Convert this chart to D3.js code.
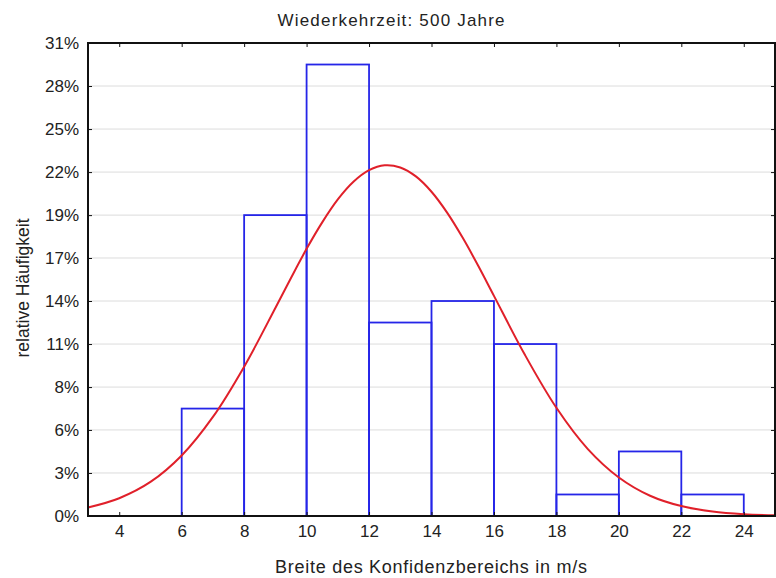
<!DOCTYPE html>
<html><head><meta charset="utf-8">
<script src="https://cdn.jsdelivr.net/npm/d3@7"></script>
<style>body{margin:0;background:#fff}svg{display:block}text{font-family:Arial,"Liberation Sans",sans-serif;fill:#222}</style>
</head><body><svg id="c" width="776" height="578"></svg>
<script>
// Histogram bins (m/s) and relative frequencies (%), N = 72
const binStarts = [6, 8, 10, 12, 14, 16, 18, 20, 22];
const binWidth = 2;
const relFreq = [6.94, 19.44, 29.17, 12.50, 13.89, 11.11, 1.39, 4.17, 1.39];
// Fitted normal curve (%)
const curveX = [3,4,5,6,7,8,9,9.5,10,10.5,11,11.5,12,12.5,13,13.5,14,14.5,15,15.5,16,17,18,19,20,21,22,23,24,25];
const curveY = [0.55,1.15,2.20,3.91,6.40,9.65,13.44,15.38,17.26,18.97,20.45,21.59,22.34,22.66,22.52,21.94,20.95,19.60,17.97,16.15,14.22,10.38,6.99,4.34,2.49,1.31,0.64,0.29,0.12,0.05];
const xTicks = [4,6,8,10,12,14,16,18,20,22,24];
const yTickValues = [0,2.78,5.56,8.33,11.11,13.89,16.67,19.44,22.22,25,27.78,30.56];
const yTickLabels = ["0%","3%","6%","8%","11%","14%","17%","19%","22%","25%","28%","31%"];
const title = "Wiederkehrzeit: 500 Jahre";
const xTitle = "Breite des Konfidenzbereichs in m/s";
const yTitle = "relative Häufigkeit";

const W = 776, H = 578;
const m = {l: 88, r: 1, t: 43, b: 62};
const svg = d3.select("#c");
const x = d3.scaleLinear().domain([3, 25]).range([m.l, W - m.r]);
const y = d3.scaleLinear().domain([0, 30.56]).range([H - m.b, m.t]);

// gridlines
svg.append("g").selectAll("line").data(yTickValues.slice(1, -1)).join("line")
  .attr("x1", m.l).attr("x2", W - m.r).attr("y1", d => y(d)).attr("y2", d => y(d))
  .attr("stroke", "#dcdcdc").attr("stroke-width", 1);

// bars
svg.append("g").selectAll("rect").data(relFreq).join("rect")
  .attr("x", (d, i) => x(binStarts[i])).attr("width", (d, i) => x(binStarts[i] + binWidth) - x(binStarts[i]))
  .attr("y", d => y(d)).attr("height", d => y(0) - y(d))
  .attr("fill", "none").attr("stroke", "#2525e8").attr("stroke-width", 1.8);

// curve
const line = d3.line().x((d, i) => x(curveX[i])).y(d => y(d)).curve(d3.curveCatmullRom);
svg.append("path").datum(curveY).attr("d", line)
  .attr("fill", "none").attr("stroke", "#e0202a").attr("stroke-width", 2);

// axes (ticks inward)
const fmtY = (d, i) => yTickLabels[i];
svg.append("g").attr("transform", `translate(0,${y(0)})`)
  .call(d3.axisBottom(x).tickValues(xTicks).tickSize(-4).tickPadding(9).tickFormat(d3.format("d")))
  .call(g => { g.select(".domain").remove(); g.selectAll("text").attr("font-size", 17).style("fill", "#222"); g.selectAll("line").attr("stroke", "#111"); });
svg.append("g").attr("transform", `translate(0,${m.t})`)
  .call(d3.axisTop(x).tickValues(xTicks).tickSize(-4).tickFormat(""))
  .call(g => { g.select(".domain").remove(); g.selectAll("line").attr("stroke", "#111"); });
svg.append("g").attr("transform", `translate(${m.l},0)`)
  .call(d3.axisLeft(y).tickValues(yTickValues).tickSize(-4).tickPadding(9).tickFormat(fmtY))
  .call(g => { g.select(".domain").remove(); g.selectAll("text").attr("font-size", 17).style("fill", "#222"); g.selectAll("line").attr("stroke", "#111"); });
svg.append("g").attr("transform", `translate(${W - m.r},0)`)
  .call(d3.axisRight(y).tickValues(yTickValues).tickSize(-4).tickFormat(""))
  .call(g => { g.select(".domain").remove(); g.selectAll("line").attr("stroke", "#111"); });

// frame
svg.append("rect").attr("x", m.l).attr("y", m.t).attr("width", W - m.r - m.l).attr("height", y(0) - m.t)
  .attr("fill", "none").attr("stroke", "#111").attr("stroke-width", 2);

// titles
svg.append("text").attr("x", 391).attr("y", 26).attr("text-anchor", "middle").attr("font-size", 17)
  .attr("textLength", 227).attr("lengthAdjust", "spacing").text(title);
svg.append("text").attr("x", 431).attr("y", 573).attr("text-anchor", "middle").attr("font-size", 18)
  .attr("textLength", 312).attr("lengthAdjust", "spacing").text(xTitle);
svg.append("text").attr("transform", `translate(29,288) rotate(-90)`).attr("text-anchor", "middle").attr("font-size", 17.5)
  .text(yTitle);
</script></body></html>
